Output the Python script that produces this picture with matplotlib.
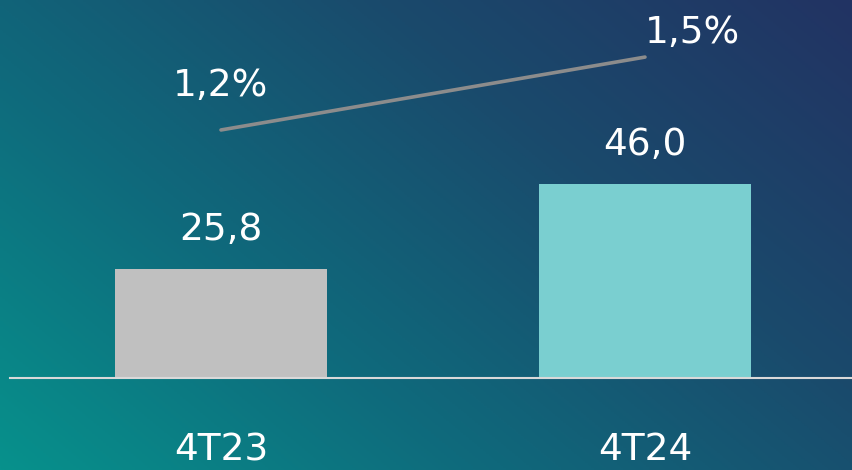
import numpy as np
import matplotlib
matplotlib.use('Agg')
import matplotlib.pyplot as plt
from matplotlib.colors import LinearSegmentedColormap

plt.rcParams['font.family'] = ['DejaVu Sans']

# DATA
categories = ['4T23', '4T24']
values = [25.8, 46.0]
value_labels = ['25,8', '46,0']
pct = [1.2, 1.5]
pct_labels = ['1,2%', '1,5%']
bar_colors = ['#c0c0c0', '#7acfd0']

W, H = 853, 470
fig = plt.figure(figsize=(W / 100, H / 100), dpi=100)

# gradient background: teal bottom-left -> navy top-right
bg = fig.add_axes([0, 0, 1, 1])
bg.set_axis_off()
gx, gy = np.meshgrid(np.linspace(0, 1, 300), np.linspace(0, 1, 200))
t = (gx * 0.6 + (1 - gy) * 0.4)
cmap = LinearSegmentedColormap.from_list('bg', ['#07918c', '#0f6a7c', '#1a4a6c', '#223363'])
bg.imshow(t, cmap=cmap, aspect='auto', extent=[0, 1, 0, 1], origin='upper')
bg.set_xlim(0, 1)
bg.set_ylim(0, 1)

# bars
ax = fig.add_axes([10 / W, 92 / H, 843 / W, 378 / H])
ax.patch.set_alpha(0)
x = np.arange(len(categories))
ax.bar(x, values, width=0.5, color=bar_colors, zorder=2)
ax.set_xlim(-0.4976, 1.4906)
ax.set_ylim(0, 89.4)
for s in ['top', 'right', 'left']:
    ax.spines[s].set_visible(False)
ax.spines['bottom'].set_color('#d9d9d9')
ax.spines['bottom'].set_linewidth(1.5)
ax.set_yticks([])
ax.set_xticks(x)
ax.set_xticklabels(categories, color='white', fontsize=27)
ax.tick_params(axis='x', length=0, pad=39)
for xi, v, lab in zip(x, values, value_labels):
    ax.annotate(lab, (xi, v), xytext=(0, 28), textcoords='offset points',
                ha='center', va='center', color='white', fontsize=27)

# line on secondary axis
ax2 = ax.twinx()
ax2.set_ylim(0.179, 1.735)
ax2.set_axis_off()
ax2.plot(x, pct, color='#8c8c8c', linewidth=2.6, solid_capstyle='round', zorder=3)
ax2.annotate(pct_labels[0], (x[0], pct[0]), xytext=(0, 32), textcoords='offset points',
             ha='center', va='center', color='white', fontsize=27)
ax2.annotate(pct_labels[1], (x[1], pct[1]), xytext=(34, 17), textcoords='offset points',
             ha='center', va='center', color='white', fontsize=27)

fig.savefig('out.png', dpi=100)
